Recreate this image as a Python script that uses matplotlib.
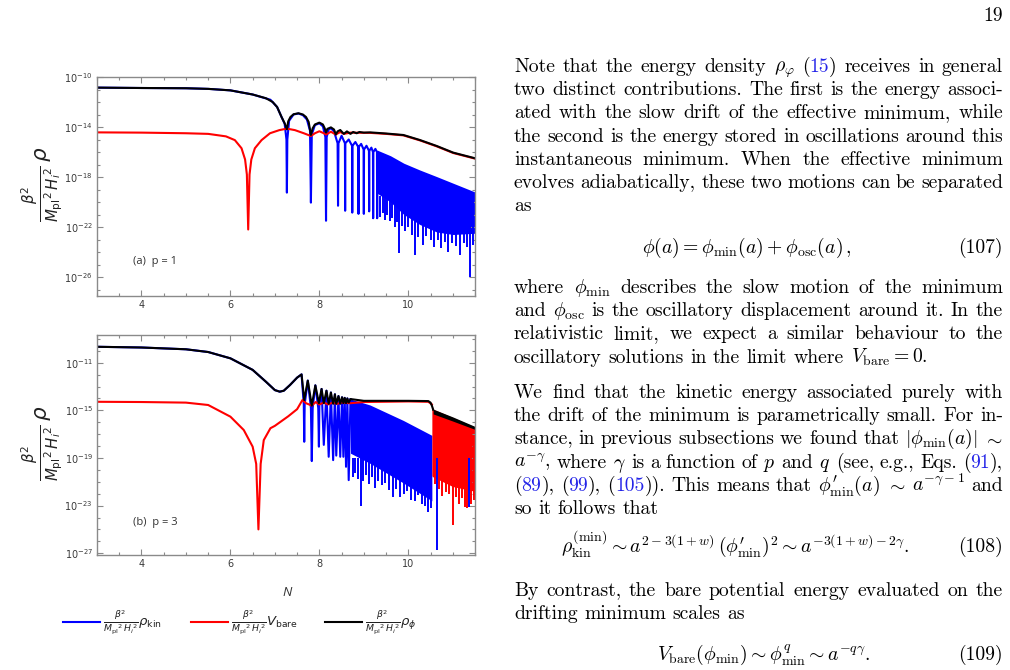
import numpy as np
import matplotlib
matplotlib.use('Agg')
import matplotlib.pyplot as plt
from matplotlib.ticker import FixedLocator, FuncFormatter, NullFormatter
from matplotlib.lines import Line2D

W, H = 1010, 670

# ---------------- panel (a), p = 1  (log10 of the plotted quantity)
a_blue_N = [3.0, 4.0, 5.0, 5.5, 6.0, 6.5, 6.9, 7.05, 7.15, 7.22, 7.26, 7.27, 7.28, 7.32, 7.42, 7.53, 7.63,
            7.72, 7.79, 7.81, 7.83, 7.9, 8.0, 8.08, 8.135, 8.15, 8.165, 8.21, 8.26, 8.33, 8.41, 8.42, 8.43,
            8.5, 8.575, 8.58, 8.585, 8.66, 8.735, 8.74, 8.745, 8.81, 8.875, 8.88, 8.885, 8.94, 8.995, 9.0,
            9.005, 9.06, 9.115, 9.12, 9.125, 9.17, 9.205, 9.21, 9.215, 9.26, 9.295, 9.3, 9.305]
a_blue_lg = [-10.85, -10.88, -10.9, -10.95, -11.07, -11.4, -11.82, -12.4, -13.2, -13.75, -15.0, -19.25, -15.0,
             -13.5, -13.0, -12.92, -13.05, -13.4, -14.3, -20.05, -14.6, -13.85, -13.7, -13.95, -14.8, -21.5,
             -14.8, -14.2, -14.1, -14.35, -15.3, -20.3, -15.3, -14.7, -15.3, -20.7, -15.3, -15.0, -15.5, -20.85,
             -15.5, -15.2, -15.6, -20.95, -15.6, -15.35, -15.8, -20.95, -15.8, -15.5, -15.9, -20.75, -15.9,
             -15.65, -16.0, -21.3, -16.0, -15.75, -16.0, -21.3, -16.0]
a_band_N = [9.3, 9.6, 9.9, 10.26, 10.64, 11.01, 11.5]
a_band_top = [-15.85, -16.3, -16.9, -17.44, -17.97, -18.5, -19.2]
a_band_bot = [-19.3, -20.0, -21.0, -21.8, -22.4, -22.6, -22.5]
a_spk_N = [9.36, 9.42, 9.48, 9.53, 9.58, 9.63, 9.69, 9.75, 9.8, 9.86, 9.93, 10.0, 10.08, 10.14, 10.22,
           10.32, 10.4, 10.5, 10.57, 10.66, 10.74, 10.82, 10.9, 10.99, 11.08, 11.17, 11.25, 11.32, 11.39, 11.46]
a_spk_lg = [-21.2, -20.9, -21.4, -21.0, -21.5, -21.3, -22.0, -21.6, -24.1, -21.9, -22.3, -22.0, -22.6, -24.2,
            -22.8, -23.4, -22.7, -23.0, -23.6, -23.0, -23.7, -23.2, -24.0, -23.3, -23.5, -24.2, -23.3, -23.6,
            -25.97, -23.4]
a_red_N = [3.0, 4.0, 5.0, 5.5, 5.9, 6.1, 6.25, 6.33, 6.37, 6.4, 6.43, 6.47, 6.55, 6.7, 6.89, 7.1, 7.27, 7.45,
           7.65, 7.81, 7.9, 8.0, 8.1, 8.15, 8.26, 8.37, 8.47, 8.55, 8.7, 9.14, 9.5, 9.89, 10.26, 10.64, 11.01, 11.5]
a_red_lg = [-14.43, -14.45, -14.5, -14.55, -14.75, -15.05, -15.7, -16.6, -17.8, -22.2, -17.8, -16.6, -15.7,
            -15.05, -14.5, -14.25, -14.13, -14.25, -14.5, -14.72, -14.5, -14.34, -14.5, -14.6, -14.38, -14.6,
            -14.4, -14.55, -14.45, -14.47, -14.55, -14.67, -15.07, -15.55, -16.08, -16.53]
a_black_N = [3.0, 4.0, 5.0, 5.5, 6.0, 6.5, 6.8, 6.95, 7.05, 7.15, 7.22, 7.27, 7.3, 7.35, 7.42, 7.53, 7.63, 7.7,
             7.76, 7.81, 7.85, 7.9, 8.0, 8.08, 8.12, 8.15, 8.18, 8.26, 8.33, 8.37, 8.41, 8.47, 8.55, 8.62, 8.7,
             8.76, 8.84, 8.9, 9.0, 9.14, 9.5, 9.89, 10.26, 10.64, 11.01, 11.5]
a_black_lg = [-10.85, -10.88, -10.9, -10.95, -11.07, -11.4, -11.7, -12.0, -12.4, -13.2, -13.7, -14.19, -13.55,
              -13.2, -12.98, -12.9, -13.0, -13.2, -13.6, -14.64, -14.1, -13.8, -13.65, -13.8, -14.1, -14.45,
              -14.15, -14.03, -14.2, -14.6, -14.35, -14.24, -14.55, -14.35, -14.55, -14.4, -14.5, -14.4, -14.45,
              -14.43, -14.52, -14.64, -15.04, -15.52, -16.05, -16.5]

# ---------------- panel (b), p = 3
b_blue_N = [3.0, 4.0, 5.0, 5.5, 6.0, 6.5, 6.8, 7.0, 7.11, 7.2, 7.34, 7.5, 7.6, 7.65, 7.66, 7.67, 7.74, 7.81,
            7.83, 7.85, 7.91, 7.975, 7.99, 8.0, 8.05, 8.1, 8.16, 8.21, 8.26, 8.31, 8.35, 8.38, 8.43, 8.47, 8.51,
            8.54, 8.57, 8.6, 8.63, 8.66, 8.7]
b_blue_lg = [-9.66, -9.72, -9.87, -10.1, -10.63, -11.6, -12.6, -13.3, -13.43, -13.35, -12.87, -12.25, -11.98,
             -14.5, -17.64, -14.5, -12.5, -14.8, -19.26, -14.8, -12.9, -14.8, -18.05, -14.6, -13.2, -17.9, -13.35,
             -18.9, -13.5, -19.18, -13.65, -18.8, -13.8, -18.9, -13.9, -18.9, -13.95, -19.74, -14.0, -20.86, -14.05]
b_band_N = [8.7, 9.14, 9.89, 10.53]
b_band_top = [-14.05, -14.55, -15.85, -17.1]
b_band_bot = [-18.6, -19.45, -21.1, -22.6]
b_spk_N = [8.75, 8.81, 8.87, 8.93, 8.99, 9.05, 9.12, 9.19, 9.26, 9.33, 9.4, 9.48, 9.56, 9.65, 9.73, 9.81, 9.9,
           9.98, 10.06, 10.14, 10.22, 10.3, 10.38, 10.45, 10.5, 10.64, 11.37]
b_spk_lg = [-20.6, -20.3, -20.8, -23.04, -20.9, -20.4, -21.2, -20.6, -21.5, -20.9, -21.3, -21.1, -21.7, -22.3,
            -21.6, -22.26, -22.0, -21.8, -22.5, -22.6, -22.1, -22.9, -23.0, -23.5, -23.2, -26.7, -23.1]
b_red_N = [3.0, 4.0, 5.0, 5.5, 6.0, 6.3, 6.5, 6.58, 6.63, 6.68, 6.75, 6.9, 7.0, 7.3, 7.5, 7.62, 7.7, 7.83, 7.92,
           8.0, 8.1, 8.2, 8.3, 8.4, 8.5, 8.7, 9.0, 10.0, 10.45, 10.53]
b_red_lg = [-14.28, -14.3, -14.35, -14.55, -15.53, -16.65, -18.05, -19.5, -25.0, -19.5, -17.5, -16.5, -16.3,
            -15.5, -14.9, -14.13, -14.4, -14.6, -14.3, -14.5, -14.35, -14.5, -14.35, -14.45, -14.35, -14.4,
            -14.3, -14.25, -14.28, -14.5]
b_rband_N = [10.53, 10.56, 11.0, 11.5]
b_rband_top = [-14.5, -14.9, -15.6, -16.4]
b_rband_bot = [-20.5, -20.6, -21.4, -21.8]
b_rspk_N = [10.6, 10.68, 10.75, 10.84, 10.92, 11.0, 11.07, 11.14, 11.21, 11.27, 11.33, 11.4, 11.47]
b_rspk_lg = [-21.2, -21.6, -22.2, -21.9, -22.0, -24.6, -22.3, -22.9, -22.4, -23.1, -23.2, -22.9, -22.5]
b_black_N = [3.0, 4.0, 5.0, 5.5, 6.0, 6.5, 6.8, 7.0, 7.11, 7.2, 7.34, 7.5, 7.6, 7.66, 7.74, 7.83, 7.91, 7.99,
             8.05, 8.1, 8.16, 8.21, 8.26, 8.31, 8.35, 8.38, 8.43, 8.47, 8.51, 8.54, 8.57, 8.6, 8.63, 8.66, 8.7,
             9.0, 9.5, 10.0, 10.45, 10.5, 10.53, 10.56]
b_black_lg = [-9.66, -9.72, -9.87, -10.1, -10.63, -11.6, -12.6, -13.3, -13.43, -13.35, -12.87, -12.25, -11.98,
              -14.13, -12.5, -14.6, -12.9, -14.4, -13.2, -14.4, -13.35, -14.45, -13.5, -14.45, -13.65, -14.45,
              -13.8, -14.45, -13.9, -14.4, -13.95, -14.4, -14.0, -14.35, -14.05, -14.2, -14.2, -14.2, -14.22,
              -14.35, -14.6, -14.95]
b_kband_N = [10.56, 11.0, 11.5]
b_kband_top = [-14.9, -15.55, -16.35]
b_kband_bot = [-15.3, -15.9, -16.6]

a_ylim = (-27.52, -10.0)
b_ylim = (-27.15, -8.67)
a_major = [-26, -22, -18, -14, -10]
b_major = [-27, -23, -19, -15, -11]

BLUE, RED, BLACK = '#0000ff', '#ff0000', '#000000'
FRAME = '#8a8a8a'
LINK = '#2424e8'


def fx(px):
    return px / W


def fy(py):
    return 1 - py / H


def p10(v):
    return 10.0 ** np.asarray(v)


def style_axes(ax, ylim, major):
    ax.set_yscale('log')
    ax.set_xlim(3, 11.5)
    ax.set_ylim(10.0 ** ylim[0], 10.0 ** ylim[1])
    ax.yaxis.set_major_locator(FixedLocator(p10(major)))
    ax.yaxis.set_minor_locator(FixedLocator(p10(np.arange(-28, -8))))
    ax.yaxis.set_major_formatter(FuncFormatter(lambda v, p: r'$10^{%d}$' % round(np.log10(v))))
    ax.yaxis.set_minor_formatter(NullFormatter())
    ax.xaxis.set_major_locator(FixedLocator([4, 6, 8, 10]))
    ax.xaxis.set_minor_locator(FixedLocator(np.arange(3.0, 11.6, 0.5)))
    ax.tick_params(which='both', direction='in', top=True, right=True, color=FRAME,
                   labelsize=7, labelcolor='#3a3a3a', width=0.8)
    ax.tick_params(which='major', length=4.5, pad=3)
    ax.tick_params(which='minor', length=2.5)
    for s in ax.spines.values():
        s.set_color(FRAME)
        s.set_linewidth(1.0)


def draw_band(ax, N, top, bot, color):
    ax.fill_between(N, p10(top), p10(bot), color=color, lw=0)


lw = 1.5
fig = plt.figure(figsize=(W / 100, H / 100), dpi=100)

axa = fig.add_axes([fx(97), fy(296), fx(475) - fx(97), fy(77) - fy(296)])
axa.plot(a_blue_N, p10(a_blue_lg), color=BLUE, lw=lw)
draw_band(axa, a_band_N, a_band_top, a_band_bot, BLUE)
axa.vlines(a_spk_N, p10(a_spk_lg), 10.0 ** -19.5, color=BLUE, lw=1.4)
axa.plot(a_red_N, p10(a_red_lg), color=RED, lw=lw)
axa.plot(a_black_N, p10(a_black_lg), color=BLACK, lw=lw)
style_axes(axa, a_ylim, a_major)

axb = fig.add_axes([fx(97), fy(555), fx(475) - fx(97), fy(335) - fy(555)])
axb.plot(b_blue_N, p10(b_blue_lg), color=BLUE, lw=lw)
draw_band(axb, b_band_N, b_band_top, b_band_bot, BLUE)
axb.vlines(b_spk_N, p10(b_spk_lg), 10.0 ** -19.0, color=BLUE, lw=1.4)
axb.plot(b_red_N, p10(b_red_lg), color=RED, lw=lw)
draw_band(axb, b_rband_N, b_rband_top, b_rband_bot, RED)
axb.vlines(b_rspk_N, p10(b_rspk_lg), 10.0 ** -18.0, color=RED, lw=1.4)
axb.plot(b_black_N, p10(b_black_lg), color=BLACK, lw=lw)
draw_band(axb, b_kband_N, b_kband_top, b_kband_bot, BLACK)
style_axes(axb, b_ylim, b_major)

# axis labels, panel tags and legend
ylab = r'$\frac{\beta^2}{{M_{\mathrm{pl}}}^2\,{H_i}^2}\,\rho$'
for yc in (184, 443):
    fig.text(fx(42), fy(yc), ylab, rotation=90, fontsize=15.5, ha='center', va='center', color='#222222')
fig.text(fx(133), fy(262), '(a)  p = 1', fontsize=8, family='Open Sans', va='center', color='#333333')
fig.text(fx(133), fy(522), '(b)  p = 3', fontsize=8, family='Open Sans', va='center', color='#333333')
fig.text(fx(287), fy(592), 'N', fontsize=9.5, style='italic', family='Open Sans', ha='center', va='center',
         color='#333333')

frac = r'\frac{\beta^2}{{M_{\mathrm{pl}}}^2\,{H_i}^2}'
leg = [(63, BLUE, r'$%s\rho_{\mathrm{kin}}$' % frac),
       (191, RED, r'$%sV_{\mathrm{bare}}$' % frac),
       (325, BLACK, r'$%s\rho_{\phi}$' % frac)]
for x0, c, lab in leg:
    fig.add_artist(Line2D([fx(x0), fx(x0 + 37)], [fy(622), fy(622)], color=c, lw=1.5))
    fig.text(fx(x0 + 40), fy(622), lab, fontsize=9.5, va='center', color='#222222')

# ---------------- page text
FS = 14.2
BODY = dict(family='cmr10', math_fontfamily='cm', fontsize=FS, color='black')
renderer = fig.canvas.get_renderer()
SPACE = 0.333 * FS * 100 / 72


def put_line(line, y, justify=True, x0=514, x1=1003):
    words = line.split()
    pieces, widths = [], []
    for w in words:
        arts = []
        for k, s in enumerate(w.split('#')):
            if not s:
                continue
            t = fig.text(0, fy(y), s, va='baseline', **BODY)
            if k % 2:
                t.set_color(LINK)
            arts.append((t, t.get_window_extent(renderer).width))
        pieces.append(arts)
        widths.append(sum(a[1] for a in arts))
    gap = (x1 - x0 - sum(widths)) / (len(words) - 1) if (justify and len(words) > 1) else SPACE
    x = x0
    for arts in pieces:
        for t, tw in arts:
            t.set_x(fx(x))
            x += tw
        x += gap


def put_para(lines, y0, step=23.2):
    for i, ln in enumerate(lines):
        put_line(ln, y0 + i * step, justify=(i < len(lines) - 1))


def put_eq(expr, num, xc, y):
    fig.text(fx(xc), fy(y), expr, ha='center', va='baseline', **BODY)
    fig.text(fx(1003), fy(y), num, ha='right', va='baseline', **BODY)


fig.text(fx(1003), fy(21), '19', ha='right', va='baseline', **BODY)

put_para([r"Note that the energy density $\rho_\varphi$ (#15#) receives in general",
          "two distinct contributions. The first is the energy associ-",
          "ated with the slow drift of the effective minimum, while",
          "the second is the energy stored in oscillations around this",
          "instantaneous minimum. When the effective minimum",
          "evolves adiabatically, these two motions can be separated",
          "as"], 72)
put_eq(r'$\phi(a)=\phi_{\mathrm{min}}(a)+\phi_{\mathrm{osc}}(a)\,,$', '(107)', 747, 253)

put_para([r"where $\phi_{\mathrm{min}}$ describes the slow motion of the minimum",
          r"and $\phi_{\mathrm{osc}}$ is the oscillatory displacement around it. In the",
          "relativistic limit, we expect a similar behaviour to the",
          r"oscillatory solutions in the limit where $V_{\mathrm{bare}}=0$."], 293)

put_para(["We find that the kinetic energy associated purely with",
          "the drift of the minimum is parametrically small. For in-",
          r"stance, in previous subsections we found that $|\phi_{\mathrm{min}}(a)|$ $\sim$",
          r"$a^{-\gamma}$, where $\gamma$ is a function of $p$ and $q$ (see, e.g., Eqs. (#91#),",
          r"(#89#), (#99#), (#105#)). This means that $\phi^{\prime}_{\mathrm{min}}(a)$ $\sim$ $a^{-\gamma-1}$ and",
          "so it follows that"], 398)
put_eq(r'$\rho_{\mathrm{kin}}^{(\mathrm{min})}\sim a^{2-3(1+w)}\,(\phi^{\prime}_{\mathrm{min}})^2'
       r'\sim a^{-3(1+w)-2\gamma}.$', '(108)', 735, 552)

put_para(["By contrast, the bare potential energy evaluated on the",
          "drifting minimum scales as"], 596)
put_eq(r'$V_{\mathrm{bare}}(\phi_{\mathrm{min}})\sim\phi^q_{\mathrm{min}}\sim a^{-q\gamma}.$', '(109)', 764, 660)

fig.savefig('out.png', dpi=100)
